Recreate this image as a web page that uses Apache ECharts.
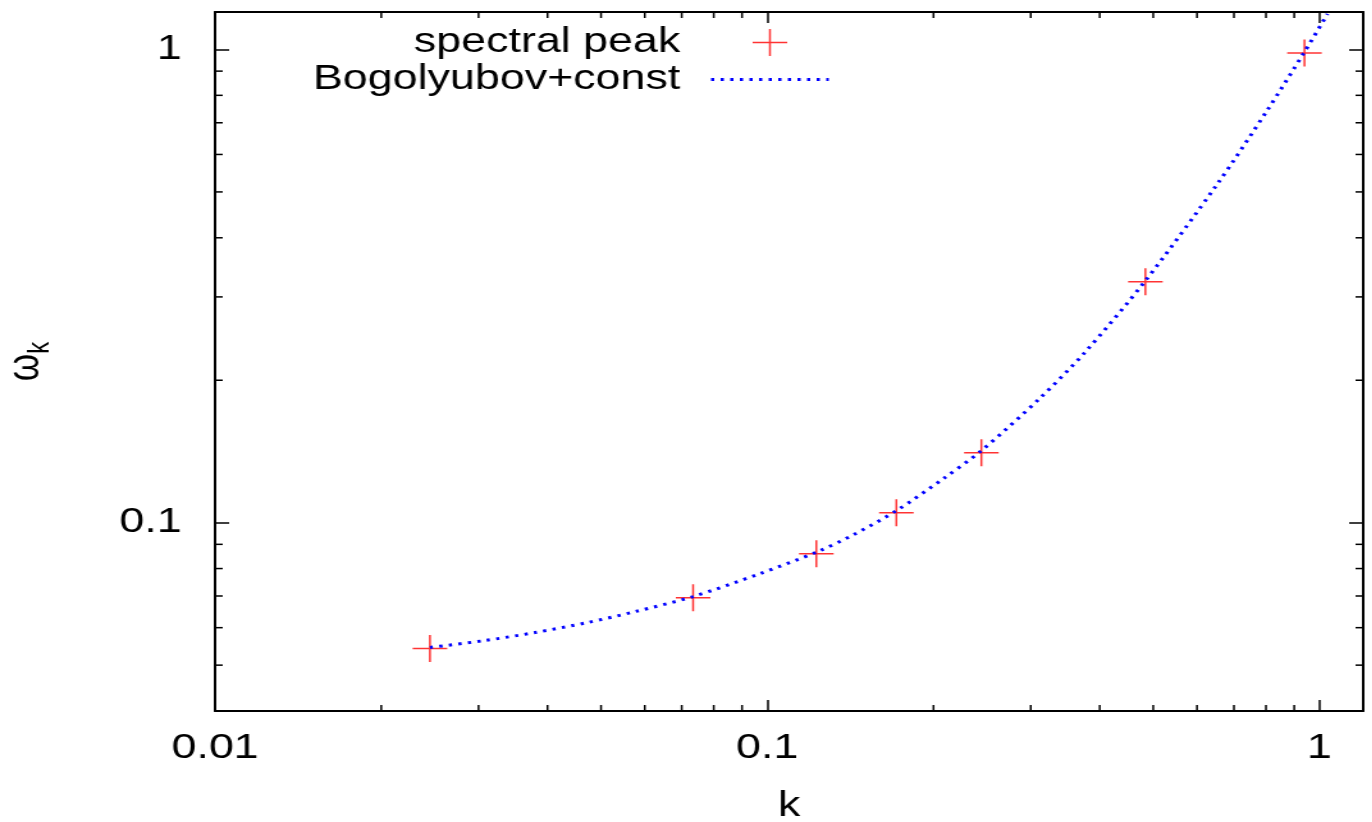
<!DOCTYPE html>
<html>
<head>
<meta charset="utf-8" />
<script src="https://cdn.jsdelivr.net/npm/echarts@6.0.0/dist/echarts.min.js"></script>
<style>
    html, body { margin: 0; padding: 0; background: #fff; overflow: hidden; }
    /* the reference is a horizontally stretched gnuplot image */
    #container { width: 1072px; height: 822px; transform: scaleX(1.28); transform-origin: 0 0; }
</style>
</head>
<body>
<div id="container"></div>
<script>
// spectral peak positions (k, omega_k)
var peakK = [0.0245, 0.0734, 0.1227, 0.1713, 0.2442, 0.4839, 0.9393];
var peakW = [0.0542, 0.0694, 0.0860, 0.1050, 0.1405, 0.3228, 0.983];

// Bogolyubov+const curve
var fitK = [0.0245, 0.0306, 0.0380, 0.0472, 0.0577, 0.0734, 0.0971, 0.1232, 0.1432, 0.1713,
            0.2084, 0.2442, 0.3124, 0.3769, 0.4839, 0.6534, 0.8052, 0.9393, 1.034];
var fitW = [0.0545, 0.0563, 0.0586, 0.0615, 0.0649, 0.0698, 0.0781, 0.0868, 0.0943, 0.1060,
            0.1239, 0.1420, 0.1837, 0.2297, 0.3245, 0.5200, 0.7452, 0.988, 1.189];

// tick labels and log minor ticks
var xTicks = [0.01, 0.1, 1];
var yTicks = [0.1, 1];
var xMinor = [0.02, 0.03, 0.04, 0.05, 0.06, 0.07, 0.08, 0.09, 0.2, 0.3, 0.4, 0.5, 0.6, 0.7, 0.8, 0.9];
var yMinor = [0.05, 0.06, 0.07, 0.08, 0.09, 0.2, 0.3, 0.4, 0.5, 0.6, 0.7, 0.8, 0.9];

var font = 'Liberation Sans, Arial, Helvetica, sans-serif';
var crossPath = 'path://M0,10L20,10M10,0L10,20';

function logLabel(ticks) {
    return function (v) {
        for (var i = 0; i < ticks.length; i++) {
            if (Math.abs(v - ticks[i]) / ticks[i] < 1e-6) return String(ticks[i]);
        }
        return '';
    };
}

function minorTicks(vals, isX) {
    return {
        type: 'custom',
        silent: true,
        clip: false,
        z: 5,
        data: vals.map(function (v) { return isX ? [v, 0.1] : [0.1, v]; }),
        renderItem: function (params, api) {
            var cs = params.coordSys;
            var p = api.coord([api.value(0), api.value(1)]);
            var len = 6;
            var style = { stroke: '#000', lineWidth: 1.5 };
            if (isX) {
                var b = cs.y + cs.height;
                return { type: 'group', children: [
                    { type: 'line', shape: { x1: p[0], y1: b, x2: p[0], y2: b - len }, style: style },
                    { type: 'line', shape: { x1: p[0], y1: cs.y, x2: p[0], y2: cs.y + len }, style: style }
                ] };
            }
            var r = cs.x + cs.width;
            return { type: 'group', children: [
                { type: 'line', shape: { x1: cs.x, y1: p[1], x2: cs.x + len, y2: p[1] }, style: style },
                { type: 'line', shape: { x1: r, y1: p[1], x2: r - len, y2: p[1] }, style: style }
            ] };
        }
    };
}

function frameAxis(pos, min, max) {
    return {
        type: 'log',
        logBase: 10,
        min: min,
        max: max,
        position: pos,
        axisLine: { show: true, onZero: false, lineStyle: { color: '#000', width: 2 } },
        axisTick: { show: true, inside: true, length: 11, lineStyle: { color: '#000', width: 1.5 } },
        axisLabel: { show: false },
        splitLine: { show: false }
    };
}

var chart = echarts.init(document.getElementById('container'), null, { renderer: 'canvas' });

var xBottom = frameAxis('bottom', 0.01, 1.2);
xBottom.name = 'k';
xBottom.nameLocation = 'middle';
xBottom.nameGap = 78;
xBottom.nameMoveOverlap = false;
xBottom.nameTextStyle = { fontSize: 35, fontFamily: font, color: '#000' };
xBottom.axisLabel = { show: true, margin: 20, fontSize: 35, fontFamily: font, color: '#000',
                      formatter: logLabel(xTicks), hideOverlap: false };

var yLeft = frameAxis('left', 0.04, 1.2);
yLeft.name = '{w|ω}{s|k}';
yLeft.nameLocation = 'middle';
yLeft.nameGap = 131;
yLeft.nameRotate = 90;
yLeft.nameMoveOverlap = false;
yLeft.nameTextStyle = {
    color: '#000',
    fontFamily: font,
    rich: {
        w: { fontSize: 35, lineHeight: 34, verticalAlign: 'top', fontFamily: font, color: '#000' },
        s: { fontSize: 24, lineHeight: 24, padding: [22, 0, 0, 0], fontFamily: font, color: '#000' }
    }
};
yLeft.axisLabel = { show: true, margin: 26, fontSize: 35, fontFamily: font, color: '#000',
                    formatter: logLabel(yTicks), hideOverlap: false };

var option = {
    backgroundColor: '#fff',
    animation: false,
    grid: { left: 168, right: 7, top: 12, bottom: 111, outerBoundsMode: 'none' },
    legend: {
        orient: 'vertical',
        align: 'right',
        right: 418,
        top: 20,
        itemWidth: 92,
        itemHeight: 27,
        itemGap: 2,
        selectedMode: false,
        textStyle: { fontSize: 35, fontFamily: font, color: '#000', padding: [0, 19, 0, 0] },
        data: [
            { name: 'spectral peak', icon: crossPath,
              itemStyle: { color: 'rgba(0,0,0,0)', borderColor: '#ff0000', borderWidth: 1.5 } },
            { name: 'Bogolyubov+const',
              itemStyle: { color: 'rgba(0,0,0,0)', borderColor: 'rgba(0,0,0,0)', borderWidth: 0 },
              lineStyle: { color: '#0000ff', width: 3, type: [2.5, 5] } }
        ]
    },
    xAxis: [xBottom, frameAxis('top', 0.01, 1.2)],
    yAxis: [yLeft, frameAxis('right', 0.04, 1.2)],
    series: [
        {
            name: 'spectral peak',
            type: 'scatter',
            data: peakK.map(function (k, i) { return [k, peakW[i]]; }),
            symbol: crossPath,
            symbolSize: 27,
            symbolKeepAspect: true,
            itemStyle: { color: 'rgba(0,0,0,0)', borderColor: '#ff0000', borderWidth: 1.5 },
            z: 2
        },
        {
            name: 'Bogolyubov+const',
            type: 'line',
            data: fitK.map(function (k, i) { return [k, fitW[i]]; }),
            smooth: 0.3,
            symbol: 'none',
            showSymbol: false,
            itemStyle: { color: '#0000ff' },
            lineStyle: { color: '#0000ff', width: 3, type: [2.5, 5], cap: 'butt' },
            z: 3
        },
        minorTicks(xMinor, true),
        minorTicks(yMinor, false)
    ]
};

chart.setOption(option);
window.addEventListener('resize', chart.resize);
</script>
</body>
</html>
